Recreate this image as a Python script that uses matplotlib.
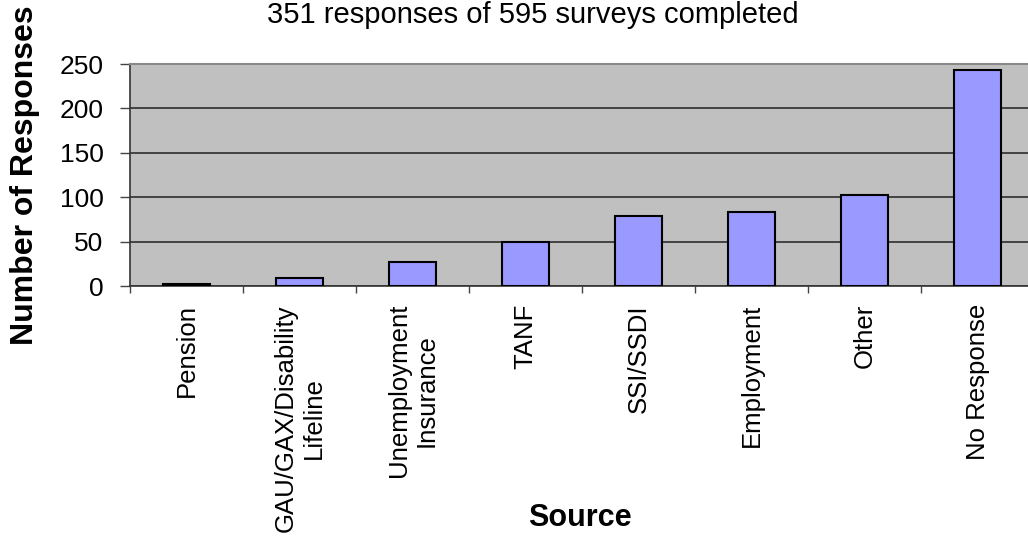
import numpy as np
import matplotlib.pyplot as plt
from matplotlib.ticker import FixedLocator

plt.rcParams['font.family'] = ['Liberation Sans', 'DejaVu Sans']

sources = ["Pension", "GAU/GAX/Disability\nLifeline", "Unemployment\nInsurance",
           "TANF", "SSI/SSDI", "Employment", "Other", "No Response"]
responses = [2, 9, 27, 50, 79, 83, 102, 243]
y_ticks = [0, 50, 100, 150, 200, 250]

fig = plt.figure(figsize=(10.28, 5.41), dpi=100)
# plot area runs past the right edge of the picture, as in the original
ax = fig.add_axes([130/1028, 1-286/541, 904/1028, 222/541])
ax.set_facecolor("#C0C0C0")

x = np.arange(len(sources))
ax.bar(x, responses, width=0.41, color="#9999FF", edgecolor="black", linewidth=1.5, zorder=3)

ax.set_xlim(-0.5, len(sources)-0.5)
ax.set_ylim(0, 250)
ax.set_yticks(y_ticks)
ax.yaxis.grid(True, color="#222222", linewidth=1.1, zorder=1)
ax.set_axisbelow(True)

ax.set_xticks(x)
ax.set_xticklabels(sources, rotation=90, va="top", ha="center", multialignment="center")
ax.xaxis.set_minor_locator(FixedLocator(np.arange(-0.5, len(sources), 1.0)))
ax.tick_params(axis="x", which="major", length=0, pad=13, labelsize=18.5)
ax.tick_params(axis="x", which="minor", length=5, width=1, color="#444444")
ax.tick_params(axis="y", length=7, width=1, color="#444444", pad=12, labelsize=19)

for s in ["left", "bottom"]:
    ax.spines[s].set_color("#333333")
    ax.spines[s].set_linewidth(1.2)
ax.spines["top"].set_color("#888888")
ax.spines["top"].set_linewidth(1.5)
ax.spines["right"].set_visible(False)

fig.text(533/1028, 1-15/541, "351 responses of 595 surveys completed",
         ha="center", va="center", fontsize=21)
fig.text(25/1028, 1-175/541, "Number of Responses", rotation=90,
         ha="center", va="center", fontsize=23, fontweight="bold")
fig.text(580/1028, 1-518/541, "Source", ha="center", va="center",
         fontsize=22, fontweight="bold")

fig.savefig("out.png", dpi=100)
